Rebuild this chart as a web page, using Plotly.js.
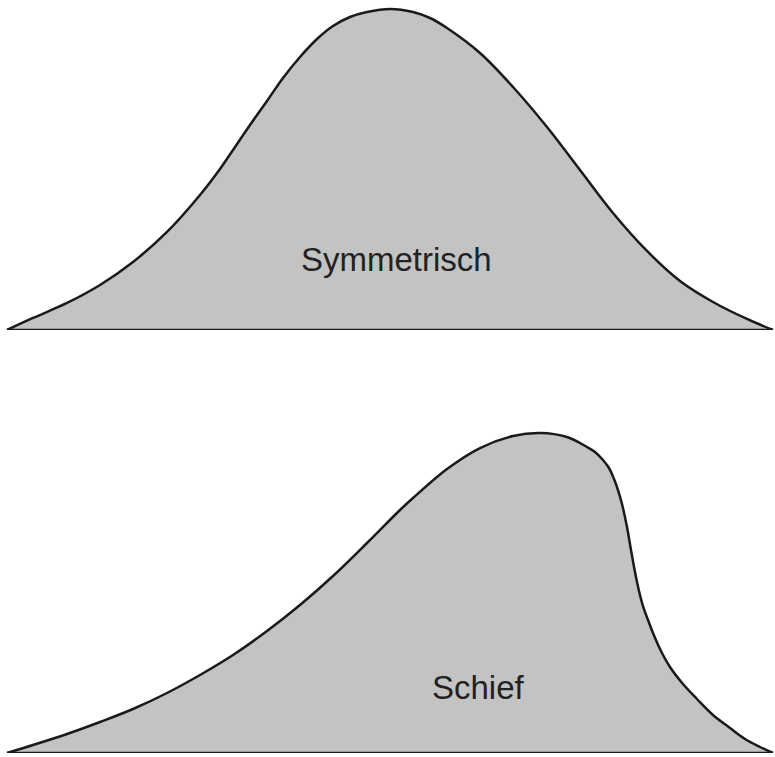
<!DOCTYPE html>
<html>
<head>
<meta charset="utf-8">
<script src="https://cdn.plot.ly/plotly-3.0.1.min.js"></script>
<style>
  html, body { margin: 0; padding: 0; background: #fff; }
  #chart { width: 775px; height: 757px; }
</style>
</head>
<body>
<div id="chart"></div>
<script>
// Kurvenpunkte (x = Position, h = Höhe über der Grundlinie)
const symX = [7, 33, 67, 100, 133, 167, 200, 220, 233, 250, 267, 283, 300, 317, 333, 350, 367, 390, 413, 430, 447, 480, 513, 547, 580, 613, 647, 680, 713, 747, 773];
const symH = [0, 12, 27, 45, 68, 98, 135, 161, 180, 205, 229, 252, 273, 291, 304, 313, 318, 321, 318, 312, 302, 277, 243, 203, 160, 117, 79, 49, 28, 11, 0];

const schiefX = [7, 33, 67, 100, 133, 167, 200, 233, 267, 300, 333, 367, 400, 413, 447, 480, 513, 540, 567, 587, 595, 603, 609, 614, 618, 622, 627, 631, 635, 639, 643, 648, 653, 661, 670, 683, 697, 713, 730, 745, 760, 773];
const schiefH = [0, 8, 19, 31, 44, 60, 78, 98, 122, 148, 177, 210, 243, 255, 284, 305, 317, 320, 316, 306, 301, 293, 285, 274, 263, 249, 226, 203, 181, 162, 147, 133, 120, 102, 86, 69, 54, 38, 25, 14, 6, 0];

const labels = ["Symmetrisch", "Schief"];

const FILL = "#c3c3c3";
const INK = "#1a1a1a";

function curve(x, h, yaxis) {
  return {
    x, y: h, yaxis,
    type: "scatter", mode: "lines",
    line: { color: INK, width: 2.5, shape: "spline", smoothing: 1 },
    fill: "tozeroy", fillcolor: FILL,
    hoverinfo: "skip",
  };
}

function baseline(x, yaxis) {
  return {
    x: [x[0], x[x.length - 1]], y: [0, 0], yaxis,
    type: "scatter", mode: "lines",
    line: { color: INK, width: 2.5 },
    hoverinfo: "skip",
  };
}

const axisOff = { visible: false, showgrid: false, zeroline: false, fixedrange: true };
const labelFont = { family: "Liberation Sans, Arial, sans-serif", size: 33, color: "#222" };

Plotly.newPlot("chart", [
  curve(symX, symH, "y"),
  baseline(symX, "y"),
  curve(schiefX, schiefH, "y2"),
  baseline(schiefX, "y2"),
], {
  width: 775, height: 757,
  margin: { l: 0, r: 0, t: 0, b: 0 },
  paper_bgcolor: "#fff", plot_bgcolor: "#fff",
  showlegend: false,
  xaxis: { ...axisOff, range: [0, 775] },
  yaxis: { ...axisOff, domain: [0.5641, 1], range: [0, 330] },
  yaxis2: { ...axisOff, domain: [0.00528, 0.4412], range: [0, 330] },
  annotations: [
    { text: labels[0], x: 396, y: 70, xref: "x", yref: "y", showarrow: false, font: labelFont },
    { text: labels[1], x: 478, y: 66, xref: "x", yref: "y2", showarrow: false, font: labelFont },
  ],
}, { displayModeBar: false, staticPlot: true });
</script>
</body>
</html>
